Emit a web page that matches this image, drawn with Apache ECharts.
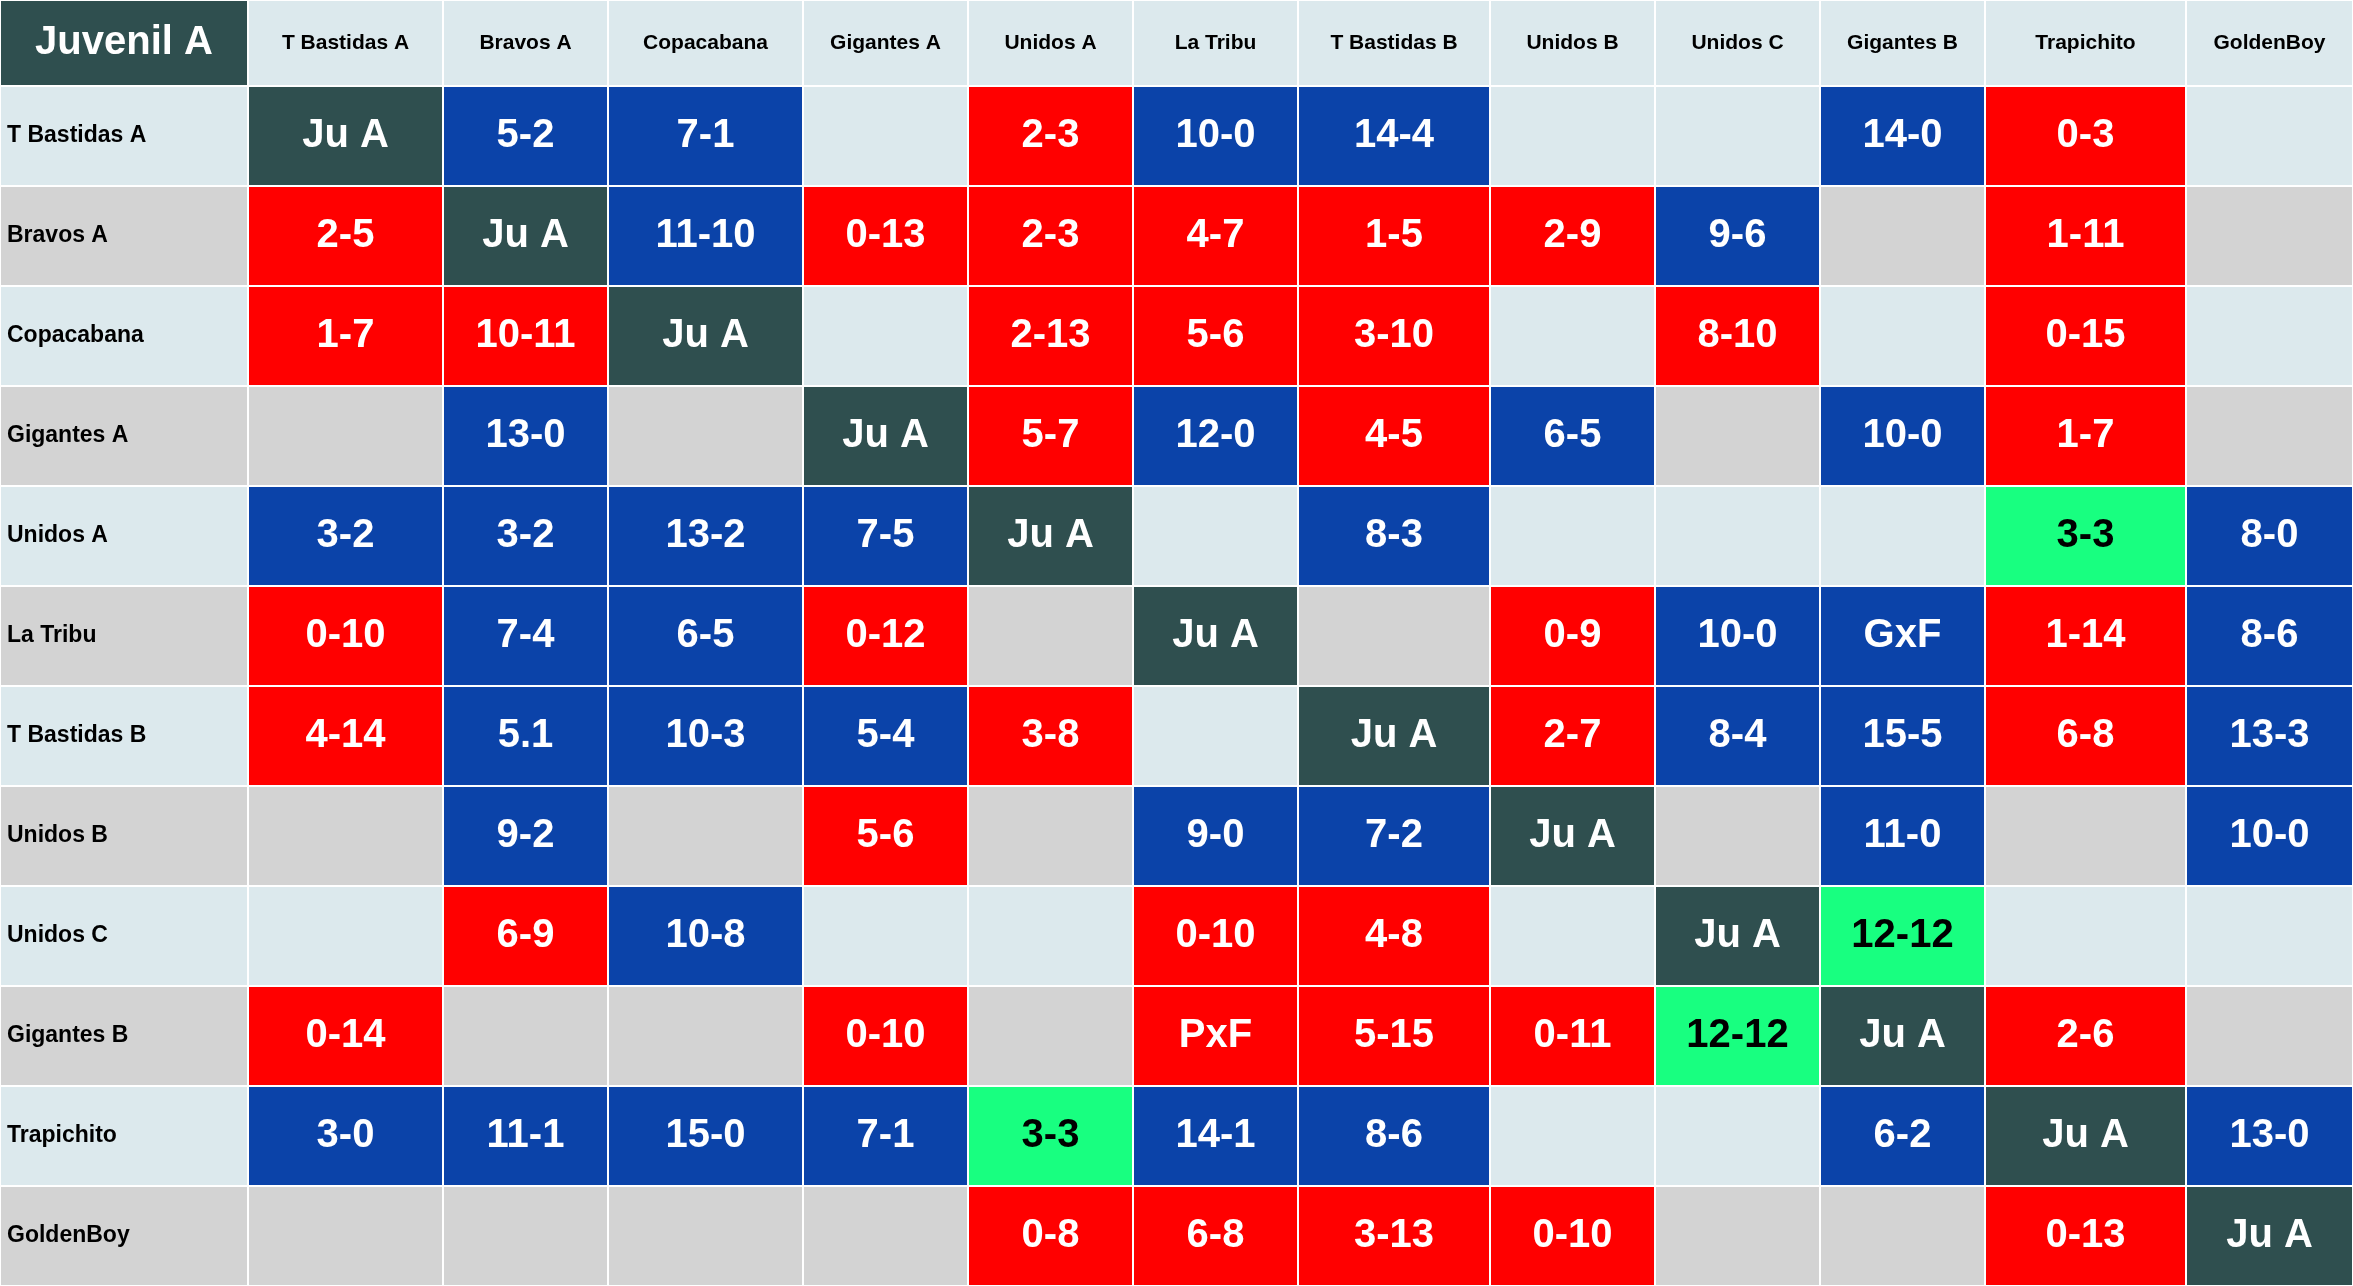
<!DOCTYPE html>
<html><head><meta charset="utf-8">
<script src="https://cdn.jsdelivr.net/npm/echarts@6/dist/echarts.min.js"></script>
<style>html,body{margin:0;padding:0;background:#fff}#c{width:2353px;height:1286px}</style>
</head><body><div id="c"></div>
<script>
const title = 'Juvenil A';
const teams = ['T Bastidas A','Bravos A','Copacabana','Gigantes A','Unidos A','La Tribu','T Bastidas B','Unidos B','Unidos C','Gigantes B','Trapichito','GoldenBoy'];
const r1 = ['Ju A','5-2','7-1','','2-3','10-0','14-4','','','14-0','0-3',''];
const r2 = ['2-5','Ju A','11-10','0-13','2-3','4-7','1-5','2-9','9-6','','1-11',''];
const r3 = ['1-7','10-11','Ju A','','2-13','5-6','3-10','','8-10','','0-15',''];
const r4 = ['','13-0','','Ju A','5-7','12-0','4-5','6-5','','10-0','1-7',''];
const r5 = ['3-2','3-2','13-2','7-5','Ju A','','8-3','','','','3-3','8-0'];
const r6 = ['0-10','7-4','6-5','0-12','','Ju A','','0-9','10-0','GxF','1-14','8-6'];
const r7 = ['4-14','5.1','10-3','5-4','3-8','','Ju A','2-7','8-4','15-5','6-8','13-3'];
const r8 = ['','9-2','','5-6','','9-0','7-2','Ju A','','11-0','','10-0'];
const r9 = ['','6-9','10-8','','','0-10','4-8','','Ju A','12-12','',''];
const r10 = ['0-14','','','0-10','','PxF','5-15','0-11','12-12','Ju A','2-6',''];
const r11 = ['3-0','11-1','15-0','7-1','3-3','14-1','8-6','','','6-2','Ju A','13-0'];
const r12 = ['','','','','0-8','6-8','3-13','0-10','','','0-13','Ju A'];
const results = [r1,r2,r3,r4,r5,r6,r7,r8,r9,r10,r11,r12];

// layout (pixel boundaries)
const colEdges = [0,248,443,608,803,968,1133,1298,1490,1655,1820,1985,2186,2353];
const rowEdges = [0,86]; for (let i=1;i<=12;i++) rowEdges.push(86+i*100);

const C = {blue:'#0b43a9', red:'#ff0000', green:'#18ff80', dark:'#2f4f4f', light:'#dce9ed', gray:'#d3d3d3'};
function cellColor(t, r){
  if (t==='Ju A') return C.dark;
  if (t==='') return r%2===0 ? C.light : C.gray;
  if (t==='GxF') return C.blue;
  if (t==='PxF') return C.red;
  const p = t.split(/[-.]/).map(Number);
  if (p[0]>p[1]) return C.blue;
  if (p[0]<p[1]) return C.red;
  return C.green;
}
const data = [];
data.push([0,0,title,'corner']);
teams.forEach((t,i)=>data.push([i+1,0,t,'head']));
teams.forEach((t,r)=>{
  data.push([0,r+1,t,'label']);
  results[r].forEach((v,c)=>data.push([c+1,r+1,v,'cell']));
});
const chart = echarts.init(document.getElementById('c'));
chart.setOption({
  animation:false,
  grid:{left:0,right:0,top:0,bottom:0},
  xAxis:{type:'value',min:0,max:2353,show:false},
  yAxis:{type:'value',min:0,max:1286,inverse:true,show:false},
  series:[{
    type:'custom',
    data:data,
    renderItem:(params,api)=>{
      const d = data[params.dataIndex];
      const c=d[0], r=d[1], t=d[2], kind=d[3];
      const p0 = api.coord([colEdges[c], rowEdges[r]]);
      const p1 = api.coord([colEdges[c+1], rowEdges[r+1]]);
      const w=p1[0]-p0[0], h=p1[1]-p0[1];
      let fill, tc='#000', fs=40, align='center', fw='bold';
      if (kind==='corner'){ fill=C.dark; tc='#fff'; fs=40; }
      else if (kind==='head'){ fill=C.light; fs=21; fw='bold'; }
      else if (kind==='label'){ fill=(r-1)%2===0?C.light:C.gray; fs=23; align='left'; }
      else { fill=cellColor(t,r-1); tc = fill===C.green ? '#000' : '#fff'; }
      return {type:'group',children:[
        {type:'rect',shape:{x:p0[0],y:p0[1],width:w,height:h},style:{fill:fill,stroke:'#fff',lineWidth:2}},
        {type:'text',x:align==='left'?p0[0]+7:p0[0]+w/2,y:p0[1]+h/2,
          style:{text:t,fill:tc,font:fw+' '+fs+'px Arial, "Liberation Sans", sans-serif',align:align,verticalAlign:'middle'}}
      ]};
    }
  }]
});
</script></body></html>
